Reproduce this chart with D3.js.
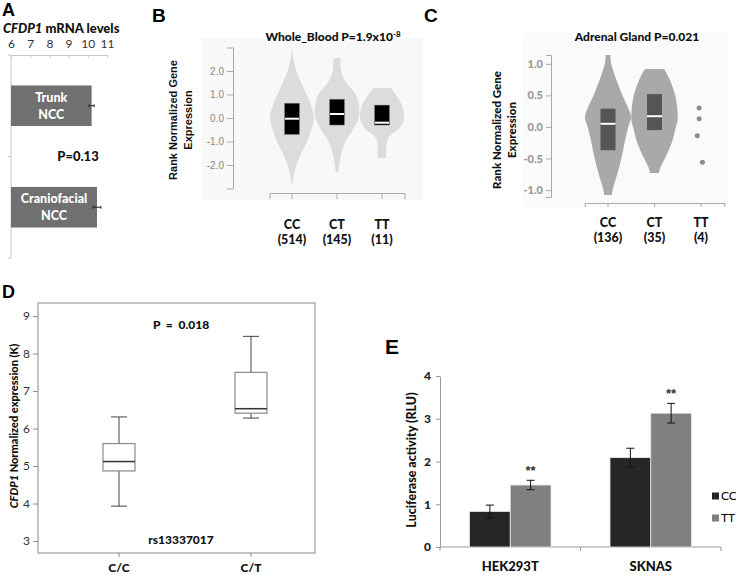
<!DOCTYPE html>
<html>
<head>
<meta charset="utf-8">
<script src="https://cdn.jsdelivr.net/npm/d3@7"></script>
<style>
  html, body { margin: 0; padding: 0; background: #fff; }
  svg { display: block; }
  text { font-family: Lato, "Open Sans", "Liberation Sans", sans-serif; }
</style>
</head>
<body>
<svg id="fig" width="736" height="575"></svg>
<script>
// ---------------- DATA ----------------
// Panel A
const aCategories = ["Trunk NCC", "Craniofacial NCC"];
const aLines = [["Trunk", "NCC"], ["Craniofacial", "NCC"]];
const aValues = [10.2, 10.48];
const aErrors = [0.13, 0.2];
const aTicks = [6, 7, 8, 9, 10, 11];
const aPValue = "P=0.13";

// Panel B (Whole_Blood)
const bGroups = ["CC", "CT", "TT"];
const bCounts = ["(514)", "(145)", "(11)"];
const bQ1 = [-0.7, -0.3, -0.3];
const bMedian = [-0.03, 0.17, -0.2];
const bQ3 = [0.63, 0.8, 0.55];
const bTicks = [-2, -1, 0, 1, 2];
// violin profiles: [value, relative half-width]
const bViolinCC = [[3.0, 0.0], [2.6, 0.05], [2.0, 0.2], [1.5, 0.42], [1.0, 0.66], [0.5, 0.88], [0.0, 1.0], [-0.5, 0.88], [-1.0, 0.68], [-1.5, 0.42], [-2.0, 0.2], [-2.5, 0.07], [-2.95, 0.0]];
const bViolinCT = [[2.55, 0.16], [2.2, 0.17], [1.8, 0.25], [1.4, 0.5], [1.0, 0.85], [0.5, 1.0], [0.0, 0.98], [-0.5, 0.72], [-1.0, 0.38], [-1.5, 0.2], [-2.0, 0.1], [-2.3, 0.06]];
const bViolinTT = [[1.28, 0.4], [1.0, 0.62], [0.5, 0.92], [0.0, 1.0], [-0.4, 0.82], [-0.8, 0.32], [-1.1, 0.21], [-1.7, 0.2]];
const bViolins = [bViolinCC, bViolinCT, bViolinTT];

// Panel C (Adrenal Gland)
const cGroups = ["CC", "CT", "TT"];
const cCounts = ["(136)", "(35)", "(4)"];
const cQ1 = [-0.37, -0.05];
const cMedian = [0.05, 0.17];
const cQ3 = [0.29, 0.52];
const cTicks = [-1, -0.5, 0, 0.5, 1];
const cViolinCC = [[1.14, 0.1], [1.0, 0.14], [0.75, 0.36], [0.5, 0.63], [0.3, 0.88], [0.15, 1.0], [0.0, 0.88], [-0.25, 0.72], [-0.5, 0.58], [-0.75, 0.4], [-1.0, 0.2], [-1.08, 0.17]];
const cViolinCT = [[0.92, 0.42], [0.75, 0.66], [0.5, 0.9], [0.25, 1.0], [0.1, 1.0], [0.0, 0.93], [-0.25, 0.75], [-0.5, 0.45], [-0.65, 0.25], [-0.73, 0.19]];
const cViolins = [cViolinCC, cViolinCT];
const cTTPoints = [0.30, 0.13, -0.14, -0.56];
const cTTJitter = [-0.04, -0.04, -0.08, 0.03];

// Panel D
const dGroups = ["C/C", "C/T"];
const dMin = [3.93, 6.28];
const dQ1 = [4.87, 6.41];
const dMedian = [5.12, 6.53];
const dQ3 = [5.6, 7.5];
const dMax = [6.31, 8.46];
const dTicks = [3, 4, 5, 6, 7, 8, 9];

// Panel E
const eGroups = ["HEK293T", "SKNAS"];
const eSeries = ["CC", "TT"];
const eCC = [0.83, 2.09];
const eTT = [1.45, 3.13];
const eErrCC = [0.15, 0.22];
const eErrTT = [0.11, 0.23];
const eTicks = [0, 1, 2, 3, 4];
const eColors = ["#262626", "#808080"];

// ---------------- DRAW ----------------
const svg = d3.select("#fig");
const fmt1 = d => d.toFixed(1);
const fmtInt = d3.format("d");

function panelLabel(t, x, y, size) {
  svg.append("text").attr("x", x).attr("y", y).text(t)
    .style("font-family", "'Liberation Sans', Arial, sans-serif")
    .style("font-weight", "bold").style("font-size", size + "px").attr("fill", "#000");
}

// ===== Panel A =====
panelLabel("A", 2, 16, 18);
{
  const t = svg.append("text").attr("x", 3).attr("y", 33)
    .style("font-size", "13px").style("font-weight", "900").attr("fill", "#111");
  t.append("tspan").text("CFDP1").style("font-style", "italic");
  t.append("tspan").text(" mRNA levels");

  const x = d3.scaleLinear().domain([6, 11]).range([11, 107]);
  const y = d3.scaleBand().domain(aCategories).range([55, 258]).paddingInner(0.6).paddingOuter(0.3);
  const g = svg.append("g");
  const ax = g.append("g").attr("transform", "translate(0,55)")
    .call(d3.axisTop(x).tickValues(aTicks).tickFormat(fmtInt).tickSize(-3).tickSizeOuter(0));
  ax.select(".domain").attr("stroke", "#c8c8c8");
  ax.selectAll(".tick line").attr("stroke", "#c8c8c8");
  ax.selectAll(".tick text").attr("fill", "#333").style("font-size", "12px").attr("dy", "-0.3em");
  // vertical axis
  g.append("line").attr("x1", x(6)).attr("x2", x(6)).attr("y1", 55).attr("y2", 258).attr("stroke", "#c8c8c8");
  const bounds = [y.range()[0], (y(aCategories[0]) + y.bandwidth() + y(aCategories[1])) / 2, y.range()[1]];
  g.selectAll(".yt").data(bounds).join("line").attr("x1", x(6) - 3).attr("x2", x(6))
    .attr("y1", d => d).attr("y2", d => d).attr("stroke", "#c8c8c8");
  // bars
  g.selectAll(".abar").data(aCategories).join("rect")
    .attr("x", x(6)).attr("y", d => y(d))
    .attr("width", (d, i) => x(aValues[i]) - x(6)).attr("height", y.bandwidth())
    .attr("fill", "#707070");
  // error bars
  aCategories.forEach((c, i) => {
    const cy = y(c) + y.bandwidth() / 2;
    g.append("line").attr("x1", x(aValues[i] - aErrors[i])).attr("x2", x(aValues[i] + aErrors[i]))
      .attr("y1", cy).attr("y2", cy).attr("stroke", "#222").attr("stroke-width", 1);
    [aValues[i] - aErrors[i], aValues[i] + aErrors[i]].forEach(v =>
      g.append("line").attr("x1", x(v)).attr("x2", x(v)).attr("y1", cy - 1.5).attr("y2", cy + 1.5).attr("stroke", "#222"));
    const cx = (x(6) + x(aValues[i])) / 2;
    aLines[i].forEach((l, j) => {
      g.append("text").attr("x", cx).attr("y", cy + (j === 0 ? -8.5 : 8.5)).attr("dy", "0.35em")
        .attr("text-anchor", "middle").attr("fill", "#fff").style("font-weight", "900").style("font-size", "12.5px").text(l);
    });
  });
  g.append("text").attr("x", 78).attr("y", bounds[1]).attr("dy", "0.35em").attr("text-anchor", "middle")
    .style("font-weight", "900").style("font-size", "13px").attr("fill", "#111").text(aPValue);
}

// ===== Panel B =====
panelLabel("B", 152, 22, 19);
{
  const g = svg.append("g");
  g.append("rect").attr("x", 202).attr("y", 38).attr("width", 221).attr("height", 162).attr("fill", "#f8f8f8");
  const y = d3.scaleLinear().domain([-3, 3]).range([188.5, 47.5]);
  const x = d3.scaleBand().domain(bGroups).range([269.5, 404.5]);
  const maxW = 22;
  const ay = g.append("g").attr("transform", "translate(233,0)")
    .call(d3.axisLeft(y).tickValues(bTicks).tickFormat(fmt1).tickSize(6).tickSizeOuter(6));
  ay.selectAll("path, line").attr("stroke", "#aaa");
  ay.selectAll("text").attr("fill", "#888").style("font-family", "'Liberation Sans', Arial, sans-serif").style("font-size", "10px").attr("x", -9);
  const axb = g.append("g").attr("transform", "translate(0,193)")
    .call(d3.axisBottom(x).tickFormat("").tickSize(6).tickSizeOuter(6));
  axb.selectAll("path, line").attr("stroke", "#aaa");

  const area = d3.area().curve(d3.curveCatmullRom);
  bGroups.forEach((grp, i) => {
    const cx = x(grp) + x.bandwidth() / 2;
    area.y(d => y(d[0])).x0(d => cx - d[1] * maxW).x1(d => cx + d[1] * maxW);
    g.append("path").attr("d", area(bViolins[i])).attr("fill", "#dcdcdc");
    g.append("rect").attr("x", cx - 7.5).attr("y", y(bQ3[i])).attr("width", 15)
      .attr("height", y(bQ1[i]) - y(bQ3[i])).attr("fill", "#000").attr("stroke", "#888").attr("stroke-width", 0.5);
    g.append("line").attr("x1", cx - 7).attr("x2", cx + 7).attr("y1", y(bMedian[i])).attr("y2", y(bMedian[i]))
      .attr("stroke", "#fff").attr("stroke-width", 2);
    g.append("text").attr("x", cx).attr("y", 229).attr("text-anchor", "middle").style("font-weight", "900")
      .style("font-size", "12.5px").attr("fill", "#111").text(grp);
    g.append("text").attr("x", cx).attr("y", 244).attr("text-anchor", "middle").style("font-weight", "900")
      .style("font-size", "12.5px").attr("fill", "#111").text(bCounts[i]);
  });
  const t = g.append("text").attr("x", 333).attr("y", 41).attr("text-anchor", "middle")
    .style("font-weight", "900").style("font-size", "12px").attr("fill", "#111");
  t.append("tspan").text("Whole_Blood P=1.9x10");
  t.append("tspan").text("-8").attr("dy", "-0.45em").style("font-size", "8px");
  const yl = g.append("text").attr("transform", "translate(173,120) rotate(-90)").attr("text-anchor", "middle")
    .style("font-family", "'Liberation Sans', Arial, sans-serif").style("font-weight", "bold").style("font-size", "11px").attr("fill", "#111");
  yl.append("tspan").attr("x", 0).attr("dy", "0.35em").text("Rank Normalized Gene");
  yl.append("tspan").attr("x", 0).attr("dy", "1.4em").text("Expression");
}

// ===== Panel C =====
panelLabel("C", 424, 22, 19);
{
  const g = svg.append("g");
  svg.append("clipPath").attr("id", "clipC").append("rect").attr("x", 523).attr("y", 33).attr("width", 205).attr("height", 174);
  g.append("rect").attr("x", 523).attr("y", 33).attr("width", 205).attr("height", 174).attr("fill", "#fafafa");
  const inner = g.append("g").attr("clip-path", "url(#clipC)");
  const y = d3.scaleLinear().domain([-1.11, 1.14]).range([197, 55]);
  const x = d3.scaleBand().domain(cGroups).range([584.75, 724.25]);
  const maxW = 23;
  const ay = inner.append("g").attr("transform", "translate(551,0)")
    .call(d3.axisLeft(y).tickValues(cTicks).tickFormat(fmt1).tickSize(5).tickSizeOuter(5));
  ay.selectAll("path, line").attr("stroke", "#aaa");
  ay.selectAll("text").attr("fill", "#999").style("font-weight", "900").style("font-size", "11px").attr("x", -8);
  const axb = inner.append("g").attr("transform", "translate(0,203)")
    .call(d3.axisBottom(x).tickFormat("").tickSize(5).tickSizeOuter(5));
  axb.selectAll("path, line").attr("stroke", "#aaa");

  const area = d3.area().curve(d3.curveCatmullRom);
  cViolins.forEach((prof, i) => {
    const cx = x(cGroups[i]) + x.bandwidth() / 2;
    area.y(d => y(d[0])).x0(d => cx - d[1] * maxW).x1(d => cx + d[1] * maxW);
    inner.append("path").attr("d", area(prof)).attr("fill", "#a9a9a9");
    inner.append("rect").attr("x", cx - 7.5).attr("y", y(cQ3[i])).attr("width", 15)
      .attr("height", y(cQ1[i]) - y(cQ3[i])).attr("fill", "#555");
    inner.append("line").attr("x1", cx - 7.5).attr("x2", cx + 7.5).attr("y1", y(cMedian[i])).attr("y2", y(cMedian[i]))
      .attr("stroke", "#fff").attr("stroke-width", 2);
  });
  const cxTT = x("TT") + x.bandwidth() / 2;
  inner.selectAll(".ttp").data(cTTPoints).join("circle")
    .attr("cx", (d, i) => cxTT + cTTJitter[i] * x.step()).attr("cy", d => y(d)).attr("r", 2.5).attr("fill", "#8a8a8a");
  cGroups.forEach((grp, i) => {
    const cx = x(grp) + x.bandwidth() / 2;
    g.append("text").attr("x", cx).attr("y", 227).attr("text-anchor", "middle").style("font-weight", "900")
      .style("font-size", "12.5px").attr("fill", "#111").text(grp);
    g.append("text").attr("x", cx).attr("y", 242).attr("text-anchor", "middle").style("font-weight", "900")
      .style("font-size", "12.5px").attr("fill", "#111").text(cCounts[i]);
  });
  g.append("text").attr("x", 637).attr("y", 41).attr("text-anchor", "middle")
    .style("font-weight", "900").style("font-size", "12px").attr("fill", "#111").text("Adrenal Gland P=0.021");
  const yl = g.append("text").attr("transform", "translate(497,130) rotate(-90)").attr("text-anchor", "middle")
    .style("font-weight", "900").style("font-size", "11.5px").attr("fill", "#111");
  yl.append("tspan").attr("x", 0).attr("dy", "0.35em").text("Rank Normalized Gene");
  yl.append("tspan").attr("x", 0).attr("dy", "1.3em").text("Expression");
}

// ===== Panel D =====
panelLabel("D", 2, 298, 18);
{
  const g = svg.append("g");
  const y = d3.scaleLinear().domain([2.68, 9.35]).range([553, 303]);
  const x = d3.scaleBand().domain(dGroups).range([53, 317]);
  g.append("rect").attr("x", 38).attr("y", 303).attr("width", 277).attr("height", 250)
    .attr("fill", "none").attr("stroke", "#8a8a8a");
  const ay = g.append("g").attr("transform", "translate(38,0)")
    .call(d3.axisLeft(y).tickValues(dTicks).tickFormat(fmtInt).tickSize(5).tickSizeOuter(0));
  ay.select(".domain").remove();
  ay.selectAll("line").attr("stroke", "#8a8a8a");
  ay.selectAll("text").attr("fill", "#333").style("font-size", "12px").attr("x", -8);
  const axb = g.append("g").attr("transform", "translate(0,553)")
    .call(d3.axisBottom(x).tickFormat("").tickSize(4).tickSizeOuter(0));
  axb.select(".domain").remove();
  axb.selectAll("line").attr("stroke", "#8a8a8a");

  dGroups.forEach((grp, i) => {
    const cx = x(grp) + x.bandwidth() / 2;
    const bw = 32, cw = 16;
    g.append("line").attr("x1", cx).attr("x2", cx).attr("y1", y(dMax[i])).attr("y2", y(dQ3[i])).attr("stroke", "#444");
    g.append("line").attr("x1", cx).attr("x2", cx).attr("y1", y(dQ1[i])).attr("y2", y(dMin[i])).attr("stroke", "#444");
    [dMax[i], dMin[i]].forEach(v => g.append("line").attr("x1", cx - cw / 2).attr("x2", cx + cw / 2)
      .attr("y1", y(v)).attr("y2", y(v)).attr("stroke", "#444"));
    g.append("rect").attr("x", cx - bw / 2).attr("y", y(dQ3[i])).attr("width", bw)
      .attr("height", y(dQ1[i]) - y(dQ3[i])).attr("fill", "#fff").attr("stroke", "#8a8a8a").attr("stroke-width", 1.2);
    g.append("line").attr("x1", cx - bw / 2).attr("x2", cx + bw / 2).attr("y1", y(dMedian[i])).attr("y2", y(dMedian[i]))
      .attr("stroke", "#333").attr("stroke-width", 1.5);
    g.append("text").attr("x", cx).attr("y", 572).attr("text-anchor", "middle").style("font-weight", "900")
      .style("font-size", "12px").attr("fill", "#111").text(grp);
  });
  g.append("text").attr("x", 181).attr("y", 329).attr("text-anchor", "middle").style("font-weight", "900")
    .style("font-size", "12px").attr("fill", "#111").attr("xml:space", "preserve").text("P  =  0.018");
  g.append("text").attr("x", 181).attr("y", 544).attr("text-anchor", "middle").style("font-weight", "900")
    .style("font-size", "12px").attr("fill", "#111").text("rs13337017");
  const yl = g.append("text").attr("transform", "translate(14,426) rotate(-90)").attr("text-anchor", "middle")
    .attr("dy", "0.35em").style("font-weight", "900").style("font-size", "11px").attr("fill", "#111");
  yl.append("tspan").text("CFDP1").style("font-style", "italic");
  yl.append("tspan").text(" Normalized expression (K)");
}

// ===== Panel E =====
panelLabel("E", 385, 354, 21);
{
  const g = svg.append("g");
  const y = d3.scaleLinear().domain([0, 4]).range([547, 376]);
  const x0 = d3.scaleBand().domain(eGroups).range([440, 721]).paddingInner(0.42).paddingOuter(0.21);
  const x1 = d3.scaleBand().domain(eSeries).range([0, x0.bandwidth()]);
  const ay = g.append("g").attr("transform", "translate(440,0)")
    .call(d3.axisLeft(y).tickValues(eTicks).tickFormat(fmtInt).tickSize(4).tickSizeOuter(0));
  ay.selectAll("path, line").attr("stroke", "#999");
  ay.selectAll("text").attr("fill", "#222").style("font-weight", "900").style("font-size", "12px").attr("x", -9);
  g.append("line").attr("x1", 440).attr("x2", 721).attr("y1", 547).attr("y2", 547).attr("stroke", "#999");
  const bounds = [x0.range()[0], x0.range()[0] + x0.step(), x0.range()[1]];
  g.selectAll(".xt").data(bounds).join("line").attr("x1", d => d).attr("x2", d => d)
    .attr("y1", 547).attr("y2", 551).attr("stroke", "#999");

  const vals = [eCC, eTT], errs = [eErrCC, eErrTT];
  eGroups.forEach((grp, gi) => {
    eSeries.forEach((s, si) => {
      const bx = x0(grp) + x1(s);
      const v = vals[si][gi], e = errs[si][gi];
      g.append("rect").attr("x", bx).attr("y", y(v)).attr("width", x1.bandwidth()).attr("height", y(0) - y(v))
        .attr("fill", eColors[si]).attr("stroke", "#e8e8e8").attr("stroke-width", 0.8);
      const cx = bx + x1.bandwidth() / 2;
      g.append("line").attr("x1", cx).attr("x2", cx).attr("y1", y(v + e)).attr("y2", y(v - e)).attr("stroke", "#111");
      [v + e, v - e].forEach(w => g.append("line").attr("x1", cx - 4).attr("x2", cx + 4)
        .attr("y1", y(w)).attr("y2", y(w)).attr("stroke", "#111"));
      if (si === 1) {
        g.append("text").attr("x", cx).attr("y", y(v + e) - 5).attr("text-anchor", "middle")
          .style("font-family", "'Liberation Sans', Arial, sans-serif")
          .style("font-weight", "bold").style("font-size", "13px").attr("fill", "#333").text("**");
      }
    });
    g.append("text").attr("x", x0(grp) + x0.bandwidth() / 2).attr("y", 571).attr("text-anchor", "middle")
      .style("font-weight", "900").style("font-size", "13px").attr("fill", "#111").text(grp);
  });
  // legend
  eSeries.forEach((s, i) => {
    const ly = 496 + i * 22;
    g.append("rect").attr("x", 712).attr("y", ly - 3.5).attr("width", 7).attr("height", 7).attr("fill", eColors[i]);
    g.append("text").attr("x", 721).attr("y", ly).attr("dy", "0.35em").style("font-size", "12px")
      .attr("fill", "#000").text(s);
  });
  g.append("text").attr("transform", "translate(412,460) rotate(-90)").attr("text-anchor", "middle")
    .attr("dy", "0.35em").style("font-weight", "900").style("font-size", "12.5px").attr("fill", "#111")
    .text("Luciferase activity (RLU)");
}
</script>
</body>
</html>
